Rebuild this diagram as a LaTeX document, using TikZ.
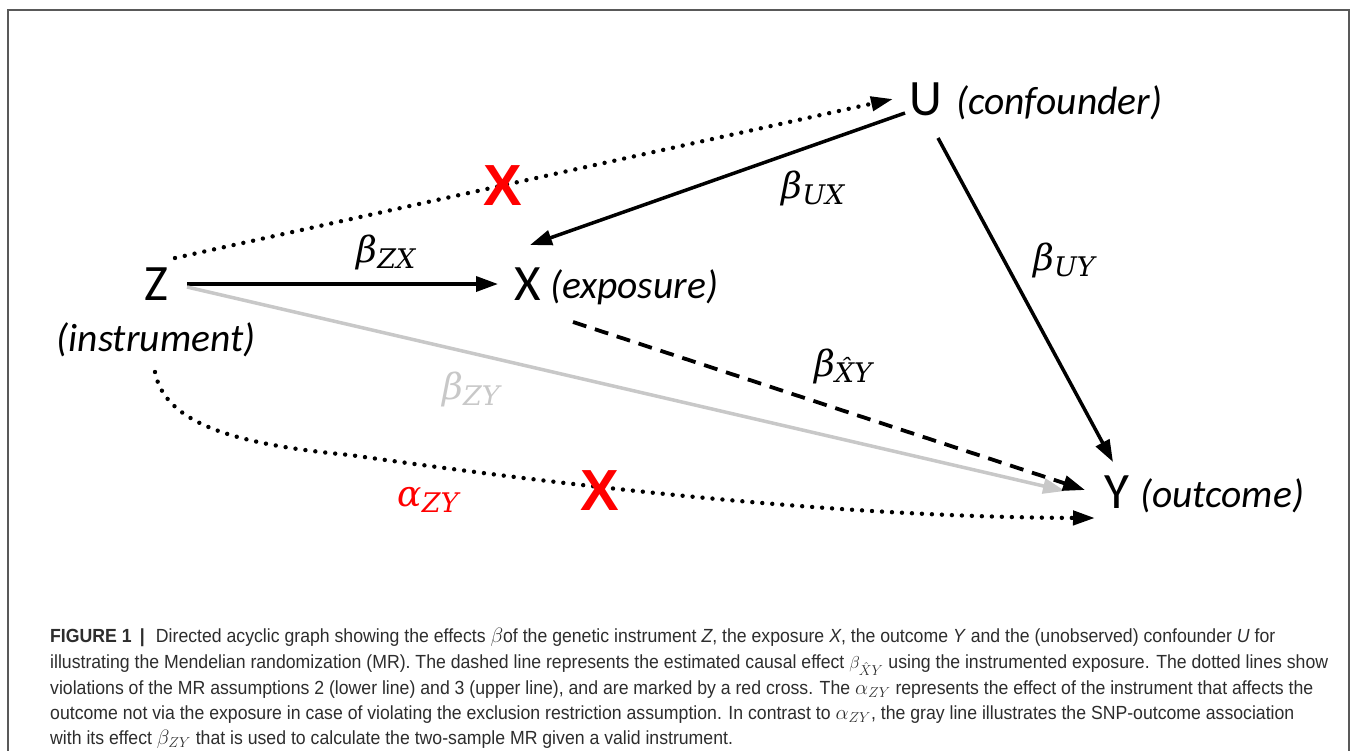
\documentclass[tikz,border=0pt]{standalone}
\usepackage{fontspec}
\usetikzlibrary{arrows.meta,calc}
\setmainfont{Carlito}
\newfontfamily\capfont{Liberation Sans}[FakeStretch=0.93]
\newfontfamily\coeffont{DejaVu Serif}
\newfontfamily\crossfont{Liberation Sans}

% effect label: Greek letter with an enlarged subscript
\newcommand\coef[2]{{\coeffont\itshape\fontsize{36}{40}\selectfont #1\raisebox{-6pt}{\fontsize{27}{30}\selectfont #2}}}
% inline symbol in the caption, set a little larger than the text
\newcommand\capsym[1]{{\fontsize{22}{22}\selectfont$#1$}}

\definecolor{linegray}{RGB}{200,200,200}
\definecolor{crossred}{RGB}{255,0,0}
\definecolor{captext}{RGB}{45,45,45}

\tikzset{
  var/.style={font=\fontsize{51}{60}\selectfont, inner sep=0pt},
  role/.style={font=\fontsize{39.5}{46}\selectfont\itshape, inner sep=0pt},
  coeflab/.style={inner sep=0pt},
  cross/.style={font=\crossfont\bfseries\fontsize{58}{60}\selectfont, text=crossred, inner sep=0pt},
  arr/.style={line width=3.5pt, -{Triangle[length=22pt,width=15pt]}},
  dotarr/.style={line width=4.4pt, line cap=round, dash pattern=on 0pt off 10pt,
                 -{Triangle[length=22pt,width=14pt]}},
  dasharr/.style={line width=3.8pt, dash pattern=on 14pt off 9pt,
                  -{Triangle[length=22pt,width=15pt]}},
  grayarr/.style={line width=3.5pt, draw=linegray,
                  -{Triangle[length=22pt,width=15pt,fill=linegray]}},
  captionline/.style={font=\capfont\fontsize{19}{22}\selectfont, text=captext, inner sep=0pt, anchor=base west},
}

\begin{document}
\begin{tikzpicture}[x=1pt,y=-1pt]
\useasboundingbox (0,0) rectangle (1355,750);
\fill[white] (0,0) rectangle (1355,750);

% frame
\draw[line width=1.3pt, draw=black!65] (8,10) rectangle (1349,780);

% variables
\node[var] (Z) at (156,284) {Z};
\node[var] (X) at (528,284) {X};
\node[var] (U) at (926,99) {U};
\node[var] (Y) at (1117,492) {Y};

\node[role] (Zr) at (156,340) {(instrument)};
\node[role, anchor=west] (Xr) at (550,287) {(exposure)};
\node[role, anchor=west] (Ur) at (956,103) {(confounder)};
\node[role, anchor=west] (Yr) at (1140,496) {(outcome)};

% connectors
\draw[arr] ($(Z)+(31,0)$) -- ($(X)+(-30,0)$);
\draw[arr] ($(U)+(-21,14)$) -- ($(X)+(2,-39)$);
\draw[arr] ($(U)+(12,39)$) -- ($(Y)+(-4,-30)$);
\draw[grayarr] ($(Z)+(31,3)$) -- ($(Y)+(-52,-1)$);
\draw[dasharr] ($(X)+(45,38)$) -- ($(Y)+(-32,-2)$);
\draw[dotarr] ($(Z)+(19,-26)$) -- ($(U)+(-33,0)$);
\draw[dotarr] ($(Z)+(-1,88)$) .. controls (165,425) and (240,445) .. (350,455)
   .. controls (540,482) and (820,517) .. ($(Y)+(-22,26)$);

% violation marks
\node[cross] (c1) at (503,186) {X};
\node[cross] (c2) at (600,491) {X};

% effect labels
\node[coeflab] (bZX) at (386,252) {\coef{β}{ZX}};
\node[coeflab] (bUX) at (813,188) {\coef{β}{UX}};
\node[coeflab] (bUY) at (1064,260) {\coef{β}{UY}};
\node[coeflab] (bXY) at (843,366) {\coef{β}{\^{X}Y}};
\node[coeflab, text=linegray] (bZY) at (471,389) {\coef{β}{ZY}};
\node[coeflab, text=crossred] (aZY) at (428,500) {\coef{α}{ZY}};

% caption
\node[captionline] (l1) at (50,642) {\textbf{FIGURE 1 \,|}\,\, Directed acyclic graph showing the effects \capsym{\beta}of the genetic instrument \textit{Z}, the exposure \textit{X}, the outcome \textit{Y} and the (unobserved) confounder \textit{U} for};
\node[captionline] (l2) at (50,668) {illustrating the Mendelian randomization (MR). The dashed line represents the estimated causal effect $\beta_{\hat X Y}$ using the instrumented exposure. The dotted lines show};
\node[captionline] (l3) at (50,694) {violations of the MR assumptions 2 (lower line) and 3 (upper line), and are marked by a red cross. The \capsym{\alpha_{ZY}} represents the effect of the instrument that affects the};
\node[captionline] (l4) at (50,719) {outcome not via the exposure in case of violating the exclusion restriction assumption. In contrast to \capsym{\alpha_{ZY}}, the gray line illustrates the SNP-outcome association};
\node[captionline] (l5) at (50,744) {with its effect \capsym{\beta_{ZY}} that is used to calculate the two-sample MR given a valid instrument.};
\end{tikzpicture}
\end{document}
